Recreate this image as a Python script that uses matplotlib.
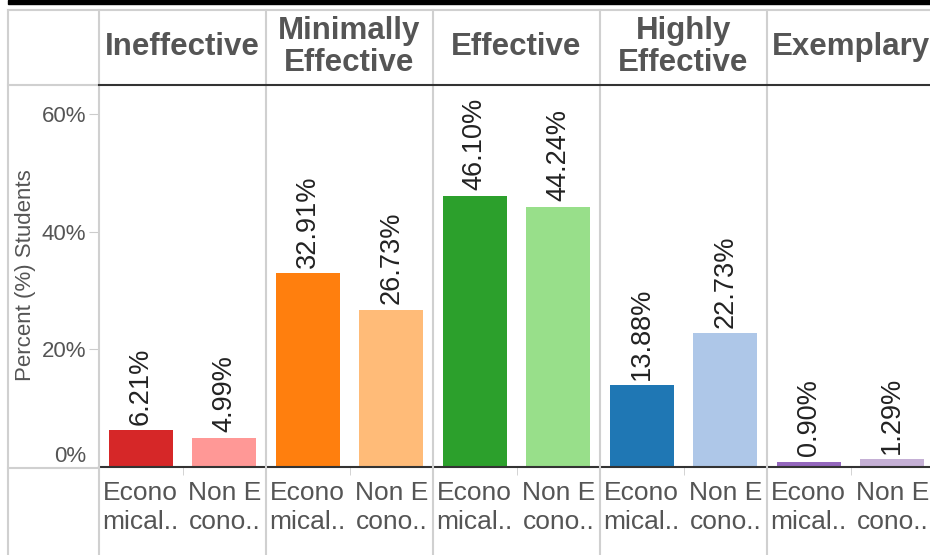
import matplotlib
matplotlib.use('Agg')
from matplotlib import pyplot as plt
from matplotlib.lines import Line2D
from matplotlib.patches import Rectangle

plt.rcParams['font.family'] = ['Liberation Sans', 'DejaVu Sans']

levels = ['Ineffective', 'Minimally\nEffective', 'Effective', 'Highly\nEffective', 'Exemplary']
econ = [6.21, 32.91, 46.10, 13.88, 0.90]
non_econ = [4.99, 26.73, 44.24, 22.73, 1.29]
econ_colors = ['#d62728', '#ff7f0e', '#2ca02c', '#1f77b4', '#9467bd']
non_econ_colors = ['#ff9896', '#ffbb78', '#98df8a', '#aec7e8', '#c5b0d5']
group_labels = ['Econo\nmical..', 'Non E\ncono..']
y_ticks = [0, 20, 40, 60]

W, H = 930, 555
fig = plt.figure(figsize=(W / 100, H / 100), dpi=100)
fig.patch.set_facecolor('white')

def fx(px):
    return px / W

def fy(py):
    return 1 - py / H

panel_w = 167
left, top, base = 99, 85, 467
ax = fig.add_axes([fx(left), fy(base), fx(panel_w * 5), (base - top) / H])
ax.set_xlim(0, 10)
ax.set_ylim(0, 60 * (base - top) / (base - 114))

bw = 64 / 83.5
for i in range(len(levels)):
    x1, x2 = i * 2 + 0.5, i * 2 + 1.5
    ax.bar(x1, econ[i], width=bw, color=econ_colors[i])
    ax.bar(x2, non_econ[i], width=bw, color=non_econ_colors[i])
    for x, v in ((x1, econ[i]), (x2, non_econ[i])):
        ax.annotate(f'{v:.2f}%', (x, v), xytext=(0, 4), textcoords='offset points',
                    rotation=90, ha='center', va='bottom', fontsize=19.5, color='#222222')

for s in ['top', 'left', 'right']:
    ax.spines[s].set_visible(False)
ax.spines['bottom'].set_color('#333333')
ax.spines['bottom'].set_linewidth(1.5)

ax.set_yticks(y_ticks)
ax.set_yticklabels([f'{t}%' for t in y_ticks])
ax.tick_params(axis='y', length=7, color='#cccccc', labelsize=16, labelcolor='#555555', pad=2)
# tableau lifts the zero label above the baseline
zero_lbl = ax.get_yticklabels()[0]
zero_lbl.set_va('bottom')
ax.get_yticklines()[0].set_visible(False)

xpos = [i + 0.5 for i in range(10)]
ax.set_xticks(xpos)
ax.set_xticklabels(group_labels * 5, fontsize=19, color='#555555', linespacing=1.25)
ax.tick_params(axis='x', length=0, pad=10)
ax.set_xticks([1, 3, 5, 7, 9], minor=True)
ax.tick_params(axis='x', which='minor', length=6, color='#cccccc')

fig.text(fx(25), fy(275), 'Percent (%) Students', rotation=90, ha='center', va='center',
         fontsize=16, color='#555555')

# header row
for i, name in enumerate(levels):
    fig.text(fx(left + panel_w * i + panel_w / 2), fy(47), name, ha='center', va='center',
             fontsize=22.5, fontweight='bold', color='#555555', linespacing=1.12)

# frame and separators
grey = '#d0d0d0'
fig.add_artist(Rectangle((fx(8), fy(4)), 1, 4 / H, transform=fig.transFigure, color='black'))
fig.add_artist(Line2D([fx(8), 1], [fy(10), fy(10)], transform=fig.transFigure, color=grey, lw=1.5))
fig.add_artist(Line2D([fx(8), fx(8)], [fy(10), 0], transform=fig.transFigure, color=grey, lw=1.5))
for k in range(6):
    xk = fx(left + panel_w * k)
    fig.add_artist(Line2D([xk, xk], [fy(10), 0], transform=fig.transFigure, color=grey, lw=1.5))
fig.add_artist(Line2D([fx(8), fx(left)], [fy(85), fy(85)], transform=fig.transFigure, color=grey, lw=1.5))
fig.add_artist(Line2D([fx(8), fx(left)], [fy(468), fy(468)], transform=fig.transFigure, color=grey, lw=1.5))
fig.add_artist(Line2D([fx(left), 1], [fy(85), fy(85)], transform=fig.transFigure, color='#333333', lw=1.5))

fig.savefig('out.png', dpi=100)
